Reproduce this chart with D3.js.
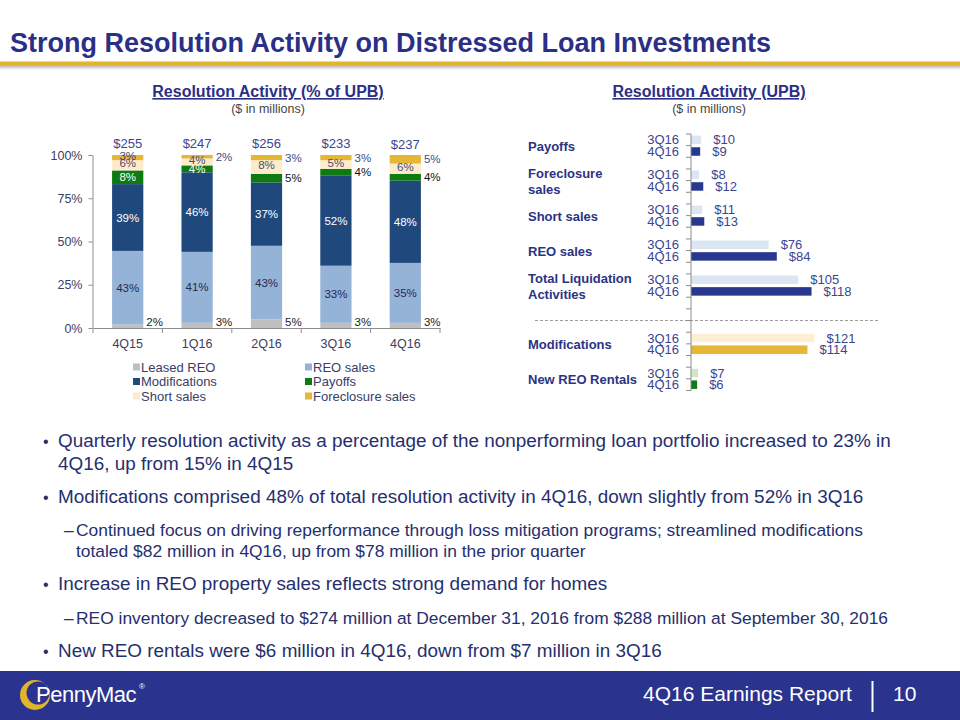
<!DOCTYPE html>
<html><head><meta charset="utf-8">
<script src="https://cdn.jsdelivr.net/npm/d3@7"></script>
<style>
body{margin:0;background:#fff}
svg{display:block}
text{font-family:"Liberation Sans",Arial,Helvetica,sans-serif}
</style>
</head><body>
<svg id="c" width="960" height="720"></svg>
<script>
// ---------- DATA ----------
const quarters = ["4Q15","1Q16","2Q16","3Q16","4Q16"];
const totals = [255,247,256,233,237];
const seriesNames = ["Leased REO","REO sales","Modifications","Payoffs","Short sales","Foreclosure sales"];
const leasedREO = [2,3,5,3,3];
const reoSales = [43,41,43,33,35];
const modifications = [39,46,37,52,48];
const payoffs = [8,4,5,4,4];
const shortSales = [6,4,8,5,6];
const foreclosureSales = [3,2,3,3,5];
const yTicks = [0,25,50,75,100];

const upbGroups = ["Payoffs","Foreclosure sales","Short sales","REO sales","Total Liquidation Activities","Modifications","New REO Rentals"];
const upbPeriods = ["3Q16","4Q16"];
const upb3Q16 = [10,8,11,76,105,121,7];
const upb4Q16 = [9,12,13,84,118,114,6];

const bullets = [
  {level:0, lines:["Quarterly resolution activity as a percentage of the nonperforming loan portfolio increased to 23% in","4Q16, up from 15% in 4Q15"]},
  {level:0, lines:["Modifications comprised 48% of total resolution activity in 4Q16, down slightly from 52% in 3Q16"]},
  {level:1, lines:["Continued focus on driving reperformance through loss mitigation programs; streamlined modifications","totaled $82 million in 4Q16, up from $78 million in the prior quarter"]},
  {level:0, lines:["Increase in REO property sales reflects strong demand for homes"]},
  {level:1, lines:["REO inventory decreased to $274 million at December 31, 2016 from $288 million at September 30, 2016"]},
  {level:0, lines:["New REO rentals were $6 million in 4Q16, down from $7 million in 3Q16"]}
];

// ---------- STYLE / LAYOUT ----------
const navy = "#2b2f85";
const seriesColors = {"Leased REO":"#bfbfbf","REO sales":"#95b3d7","Modifications":"#1f497d","Payoffs":"#0d7a12","Short sales":"#fdebcb","Foreclosure sales":"#e4b836"};
const insideLabelColor = {"REO sales":"#1f2a55","Modifications":"#ffffff","Payoffs":"#ffffff","Short sales":"#4a4d6e","Foreclosure sales":"#3d4570"};
const outsideLabelColor = {"Leased REO":"#222","Foreclosure sales":"#3d4a8a","Payoffs":"#111"};
const outsideLabels = {"Leased REO":["4Q15","1Q16","2Q16","3Q16","4Q16"],"Foreclosure sales":["1Q16","2Q16","3Q16","4Q16"],"Payoffs":["2Q16","3Q16","4Q16"]};

const svg = d3.select("#c");
const font = '"Liberation Sans",Arial,sans-serif';

// ---------- HEADER ----------
svg.append("text").attr("x",10).attr("y",52).attr("font-size",27).attr("font-weight","bold")
  .attr("fill",navy).text("Strong Resolution Activity on Distressed Loan Investments");
const defs = svg.append("defs");
const g1 = defs.append("linearGradient").attr("id","sh").attr("x1",0).attr("x2",0).attr("y1",0).attr("y2",1);
g1.append("stop").attr("offset",0).attr("stop-color","#b0b0b0");
g1.append("stop").attr("offset",1).attr("stop-color","#ffffff");
svg.append("rect").attr("x",0).attr("y",65).attr("width",960).attr("height",5).attr("fill","url(#sh)");
svg.append("rect").attr("x",0).attr("y",61.5).attr("width",960).attr("height",3.5).attr("fill","#e0b52c");

function subtitle(cx, t){
  svg.append("text").attr("x",cx).attr("y",97).attr("text-anchor","middle")
    .attr("font-size",16).attr("font-weight","bold").attr("fill",navy)
    .attr("text-decoration","underline").text(t);
  svg.append("text").attr("x",cx).attr("y",113).attr("text-anchor","middle")
    .attr("font-size",12.5).attr("fill","#444").text("($ in millions)");
}
subtitle(268,"Resolution Activity (% of UPB)");
subtitle(709,"Resolution Activity (UPB)");

// ---------- LEFT CHART ----------
const seriesData = {"Leased REO":leasedREO,"REO sales":reoSales,"Modifications":modifications,"Payoffs":payoffs,"Short sales":shortSales,"Foreclosure sales":foreclosureSales};
const table = quarters.map((q,i)=>{const o={q}; seriesNames.forEach(s=>o[s]=seriesData[s][i]); return o;});
const stacked = d3.stack().keys(seriesNames).offset(d3.stackOffsetExpand)(table);

const x = d3.scaleBand().domain(quarters).range([93,440]).paddingInner(0.55).paddingOuter(0.275);
const y = d3.scaleLinear().domain([0,1]).range([328,155]);

const left = svg.append("g");
left.append("g").selectAll("g").data(stacked).join("g").attr("fill",d=>seriesColors[d.key])
  .selectAll("rect").data(d=>d).join("rect")
  .attr("x",d=>x(d.data.q)).attr("width",x.bandwidth())
  .attr("y",d=>y(d[1])).attr("height",d=>y(d[0])-y(d[1]));

// y axis
const yAxis = d3.axisLeft(y).tickValues(yTicks.map(v=>v/100)).tickFormat(d=>Math.round(d*100)+"%").tickSize(4).tickSizeOuter(0).tickPadding(6);
const ya = left.append("g").attr("transform","translate(92.5,0)").call(yAxis);
ya.selectAll("text").attr("font-size",12.5).attr("fill","#3c4060").attr("font-family",font);
ya.selectAll("line,path").attr("stroke","#8c8c8c");

// x axis
const xAxis = d3.axisBottom(x).tickSize(0).tickPadding(11);
const xa = left.append("g").attr("transform","translate(0,328)").call(xAxis);
xa.select("path").attr("stroke","#8c8c8c");
xa.selectAll("text").attr("font-size",12.5).attr("fill","#3c4060").attr("font-family",font);
const bounds = quarters.map(q=>x(q)-x.step()*x.paddingInner()/2).concat([x.range()[1]]);
bounds[0]=x.range()[0];
left.append("g").selectAll("line").data(bounds).join("line")
  .attr("x1",d=>d).attr("x2",d=>d).attr("y1",328).attr("y2",333).attr("stroke","#8c8c8c");

// segment labels
const labels = [];
stacked.forEach(s=>{
  s.forEach(d=>{
    const q = d.data.q, v = d.data[s.key];
    const out = (outsideLabels[s.key]||[]).includes(q);
    const cy = (y(d[0])+y(d[1]))/2;
    if(out){
      labels.push({x:x(q)+x.bandwidth()+3, y:Math.min(cy,322)+4, t:v+"%", anchor:"start", fill:outsideLabelColor[s.key]});
    } else {
      labels.push({x:x(q)+x.bandwidth()/2, y:cy+4-(s.key==="Foreclosure sales"||s.key==="Short sales"?2:0), t:v+"%", anchor:"middle", fill:insideLabelColor[s.key]});
    }
  });
});
left.append("g").selectAll("text").data(labels).join("text")
  .attr("x",d=>d.x).attr("y",d=>d.y).attr("text-anchor",d=>d.anchor)
  .attr("font-size",11.5).attr("fill",d=>d.fill).text(d=>d.t);

// totals
left.append("g").selectAll("text").data(quarters).join("text")
  .attr("x",q=>x(q)+x.bandwidth()/2).attr("y",(q,i)=>148+(i===4?1:0)).attr("text-anchor","middle")
  .attr("font-size",13).attr("fill","#3b4590").text((q,i)=>"$"+totals[i]);

// legend
const legend = left.append("g");
seriesNames.forEach((s,i)=>{
  const col = i%2, row = Math.floor(i/2);
  const lx = col===0?133:305, ly = 367+row*14.5;
  legend.append("rect").attr("x",lx).attr("y",ly-3.5).attr("width",7).attr("height",7).attr("fill",seriesColors[s]);
  legend.append("text").attr("x",lx+8).attr("y",ly+4.5).attr("font-size",13).attr("fill","#3a3d66").text(s);
});

// ---------- RIGHT CHART ----------
const liquidationCount = 5;
const rows = [];
upbGroups.forEach((g,i)=>{
  if(i===liquidationCount){ rows.push("gapA"); rows.push("gapB"); }
  upbPeriods.forEach(p=>rows.push(g+"|"+p));
  if(i!==upbGroups.length-1) rows.push("gap"+i);
});
const yr = d3.scaleBand().domain(rows).range([134,390.5]).paddingInner(0.27).paddingOuter(0.135);
const xr = d3.scaleLinear().domain([0,185]).range([691,880]);
const step = yr.step();
const right = svg.append("g");

const barColors = upbGroups.map((g,i)=> i<liquidationCount ? ["#dce6f2","#29388f"] : (g==="Modifications"?["#fdefd3","#e4b836"]:["#d3e5c6","#0e7b1a"]));
const barData = [];
upbGroups.forEach((g,i)=>{
  [upb3Q16[i],upb4Q16[i]].forEach((v,j)=>barData.push({g,p:upbPeriods[j],v,c:barColors[i][j]}));
});

// separator dashed line
const sepY = 134 + (rows.indexOf("gapA")+1)*step;
right.append("line").attr("x1",535).attr("x2",880).attr("y1",sepY).attr("y2",sepY)
  .attr("stroke","#9a9a9a").attr("stroke-dasharray","3,2");

right.append("g").selectAll("rect").data(barData).join("rect")
  .attr("x",xr(0)).attr("y",d=>yr(d.g+"|"+d.p)).attr("height",yr.bandwidth())
  .attr("width",d=>xr(d.v)-xr(0)).attr("fill",d=>d.c);

// axis line + ticks
right.append("line").attr("x1",691).attr("x2",691).attr("y1",134).attr("y2",390.5).attr("stroke","#8c8c8c");
right.append("g").selectAll("line").data(d3.range(rows.length+1)).join("line")
  .attr("x1",686).attr("x2",691).attr("y1",k=>134+k*step).attr("y2",k=>134+k*step).attr("stroke","#8c8c8c");

// period labels
right.append("g").selectAll("text").data(barData).join("text")
  .attr("x",679).attr("y",d=>yr(d.g+"|"+d.p)+yr.bandwidth()/2+4.5).attr("text-anchor","end")
  .attr("font-size",13).attr("fill","#3b4590").text(d=>d.p);
// value labels
right.append("g").selectAll("text").data(barData).join("text")
  .attr("x",d=>xr(d.v)+12).attr("y",d=>yr(d.g+"|"+d.p)+yr.bandwidth()/2+4.5)
  .attr("font-size",13).attr("fill","#3b4590").text(d=>"$"+d.v);

// group labels
const groupLines = {"Foreclosure sales":["Foreclosure","sales"],"Total Liquidation Activities":["Total Liquidation","Activities"]};
upbGroups.forEach(g=>{
  const cy = (yr(g+"|3Q16")+yr(g+"|4Q16")+yr.bandwidth())/2 + 1;
  const lines = groupLines[g] || [g];
  lines.forEach((l,k)=>{
    right.append("text").attr("x",528).attr("y",cy+4.5+(k-(lines.length-1)/2)*16.5)
      .attr("font-size",13).attr("font-weight","bold").attr("fill","#2b3383").text(l);
  });
});

// ---------- BULLETS ----------
const bulletY = [[447,470],[503],[536,557],[590],[624],[657]];
const bg = svg.append("g");
bullets.forEach((b,i)=>{
  const bx = b.level===0?43:64, tx = b.level===0?58:76;
  const fs = b.level===0?18.9:17.4;
  bg.append("text").attr("x",bx).attr("y",bulletY[i][0]).attr("font-size",b.level===0?16:fs).attr("fill","#262f6e").text(b.level===0?"•":"–");
  b.lines.forEach((l,k)=>{
    bg.append("text").attr("x",tx).attr("y",bulletY[i][k]).attr("font-size",fs).attr("fill","#262f6e").text(l);
  });
});

// ---------- FOOTER ----------
svg.append("rect").attr("x",0).attr("y",671).attr("width",960).attr("height",49).attr("fill","#2a338e");
svg.append("path").attr("fill","#e0b52c").attr("fill-rule","evenodd")
  .attr("d","M20,695 a15,15 0 1,0 30,0 a15,15 0 1,0 -30,0 Z M26.5,693 a11.5,11.5 0 1,0 23,0 a11.5,11.5 0 1,0 -23,0 Z");
svg.append("text").attr("x",36).attr("y",702).attr("font-size",22).attr("fill","#fff").attr("letter-spacing",-0.5).text("PennyMac");
svg.append("text").attr("x",139).attr("y",689).attr("font-size",8).attr("fill","#fff").text("®");
svg.append("text").attr("x",643).attr("y",701).attr("font-size",21).attr("fill","#fff").text("4Q16 Earnings Report");
svg.append("line").attr("x1",872.5).attr("x2",872.5).attr("y1",681).attr("y2",712).attr("stroke","#fff").attr("stroke-width",2);
svg.append("text").attr("x",893).attr("y",701).attr("font-size",21).attr("fill","#fff").text("10");
</script>
</body></html>
